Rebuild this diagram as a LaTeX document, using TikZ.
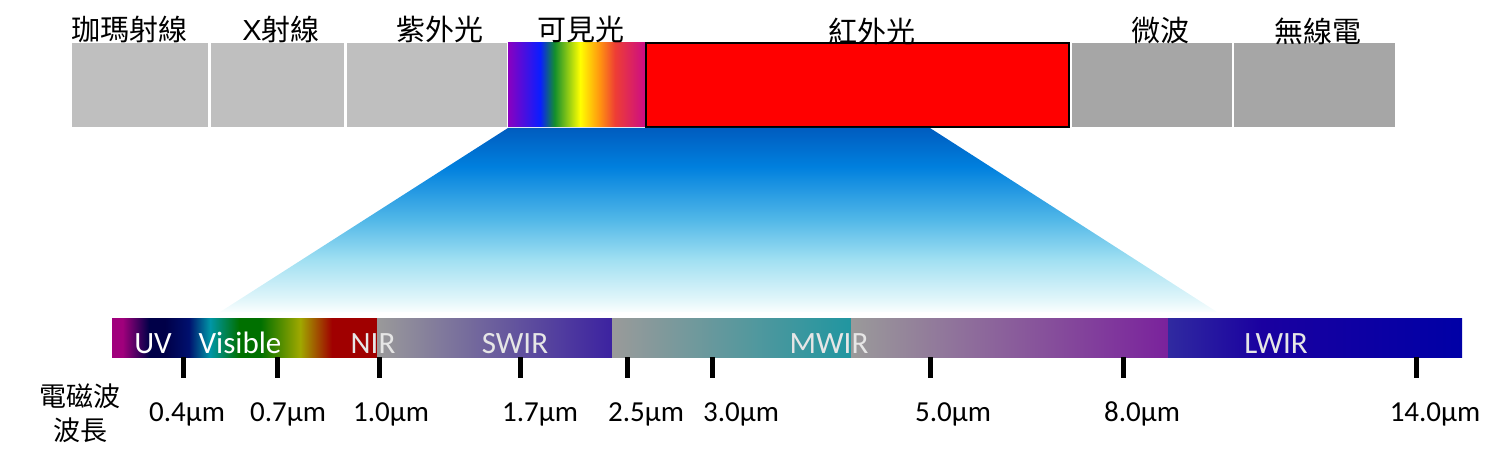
\documentclass[tikz,border=0pt]{standalone}
\usepackage{fontspec}
\setmainfont{Carlito}
\newfontfamily\cjk{Noto Sans CJK TC}
\newfontfamily\arialx{Liberation Sans}
\usepackage{tikz}
\usetikzlibrary{positioning}
\definecolor{grayA}{HTML}{BFBFBF}
\definecolor{grayB}{HTML}{A6A6A6}
\definecolor{bandtxt}{HTML}{E6E6E6}
\definecolor{bandgray}{HTML}{9A9A9A}
\definecolor{swirend}{HTML}{3C22A0}
\definecolor{mwirend}{HTML}{2096A0}
\definecolor{midend}{HTML}{7A229C}
% colours of the visible strip
\definecolor{vViolet}{HTML}{8A00C0}
\definecolor{vBlue}{HTML}{0A1EFF}
\definecolor{vGreen}{HTML}{138F2C}
\definecolor{vYellow}{HTML}{FFFF00}
\definecolor{vOrange}{HTML}{FF9410}
\definecolor{vRed}{HTML}{EE3E34}
\definecolor{vMagenta}{HTML}{CC0C86}
% colours of the UV/visible/NIR strip
\definecolor{uMag}{HTML}{A0007C}
\definecolor{uNavy}{HTML}{000048}
\definecolor{uBlue}{HTML}{00106E}
\definecolor{uCyan}{HTML}{0096A6}
\definecolor{uGreen}{HTML}{007000}
\definecolor{uOlive}{HTML}{A0A800}
\definecolor{uRed}{HTML}{A00000}
% LWIR strip
\definecolor{lLeft}{HTML}{302AA0}
\definecolor{lMid}{HTML}{1A00A0}
\definecolor{lRight}{HTML}{0000A6}
% zoom cone
\definecolor{cTop}{HTML}{005CBF}
\definecolor{cUp}{HTML}{0080DE}
\definecolor{cMid}{HTML}{52B8E8}
\definecolor{cLow}{HTML}{A2E0F2}
\definecolor{cFoot}{HTML}{E2F6FA}
\definecolor{cEnd}{HTML}{FAFEFE}
% colour bands (the middle 25bp--75bp is what fits the box)
\pgfdeclarehorizontalshading{visband}{100bp}{color(0bp)=(vViolet); color(25bp)=(vViolet);
  color(36.7bp)=(vBlue); color(42bp)=(vGreen); color(51.3bp)=(vYellow); color(58.5bp)=(vOrange);
  color(64bp)=(vRed); color(75bp)=(vMagenta); color(100bp)=(vMagenta)}
\pgfdeclarehorizontalshading{uvvisband}{100bp}{color(0bp)=(uMag); color(25bp)=(uMag);
  color(27bp)=(uMag); color(32bp)=(uNavy); color(35bp)=(uNavy);
  color(39.5bp)=(uBlue); color(43.5bp)=(uCyan); color(49bp)=(uGreen);
  color(53bp)=(uGreen); color(60.5bp)=(uOlive); color(66.5bp)=(uRed);
  color(75bp)=(uRed); color(100bp)=(uRed)}
\pgfdeclarehorizontalshading{lwirband}{100bp}{color(0bp)=(lLeft); color(25bp)=(lLeft);
  color(41bp)=(lMid); color(75bp)=(lRight); color(100bp)=(lRight)}
\pgfdeclareverticalshading{zoomcone}{100bp}{color(0bp)=(white); color(25bp)=(cEnd);
  color(28.3bp)=(cFoot); color(39bp)=(cLow); color(50bp)=(cMid);
  color(64.4bp)=(cUp); color(75bp)=(cTop); color(100bp)=(cTop)}
\tikzset{
    graybox/.style={fill=grayA},
    darkbox/.style={fill=grayB},
    toplabel/.style={font=\fontsize{14.5}{16}\cjk, inner sep=0pt},
    bandname/.style={text=bandtxt, font=\fontsize{15.5}{18}\selectfont, anchor=base, inner sep=0pt},
    tickmark/.style={line width=2.5pt, black},
    wavelabel/.style={font=\fontsize{14.5}{17}\selectfont, anchor=base, inner sep=0pt}
}

\begin{document}
\begin{tikzpicture}[x=0.5pt, y=-0.5pt]
        \useasboundingbox (0,0) rectangle (1498,465);

        % spectrum bar on top
        \fill[graybox] (72,43) rectangle (208,127);
        \fill[graybox] (211,43) rectangle (344,127);
        \fill[graybox] (347,43) rectangle (507,127);
        \shade[shading=visband] (508,43) rectangle (645,127);
        \draw[line width=1pt, fill=red] (646,43) rectangle (1069,127);
        \fill[darkbox] (1072,43) rectangle (1232,127);
        \fill[darkbox] (1234,43) rectangle (1395,127);

        \node[toplabel] (gamma) at (129,29) {珈瑪射線};
        \node[toplabel] (xray) at (281,29) {{\arialx X}射線};
        \node[toplabel] (uvtop) at (440,29) {紫外光};
        \node[toplabel] (vistop) at (581,29) {可見光};
        \node[toplabel] (irtop) at (872,31) {紅外光};
        \node[toplabel] (micro) at (1160,31) {微波};
        \node[toplabel] (radio) at (1318,31) {無線電};

        % zoom into the infrared part
        \shade[shading=zoomcone] (508,128) -- (930,128) -- (1217,312) -- (220,312) -- cycle;

        % lower bar
        \shade[shading=uvvisband] (112,318) rectangle (377,357);
        \shade[left color=bandgray, right color=swirend] (377,318) rectangle (612,357);
        \shade[left color=bandgray, right color=mwirend] (612,318) rectangle (851,357);
        \shade[left color=bandgray, right color=midend] (851,318) rectangle (1168,357);
        \shade[shading=lwirband] (1168,318) rectangle (1462,357);

        \node[bandname, text=white] (uv) at (153,353) {UV};
        \node[bandname, text=white] (vis) at (240,353) {Visible};
        \node[bandname] (nir) at (373,353) {NIR};
        \node[bandname] (swir) at (515,353) {SWIR};
        \node[bandname] (mwir) at (829,353) {MWIR};
        \node[bandname] (lwir) at (1276,353) {LWIR};

        % ticks and wavelengths
        \foreach \tx/\lx/\val [count=\i] in {183/187/0.4, 277/288/0.7, 379/391/1.0, 520/540/1.7,
            627/646/2.5, 712/741/3.0, 930/953/5.0, 1123/1142/8.0, 1416/1435/14.0}{
            \coordinate (tk\i) at (\tx,357);
            \draw[tickmark] (tk\i) -- ++(0,21);
            \node[wavelabel] (wl\i) at (\lx,421) {\val μm};
        }

        \node[align=center, font=\fontsize{13.5}{16.75}\cjk] (axisname) at (80,413) {電磁波\\波長};
\end{tikzpicture}
\end{document}
